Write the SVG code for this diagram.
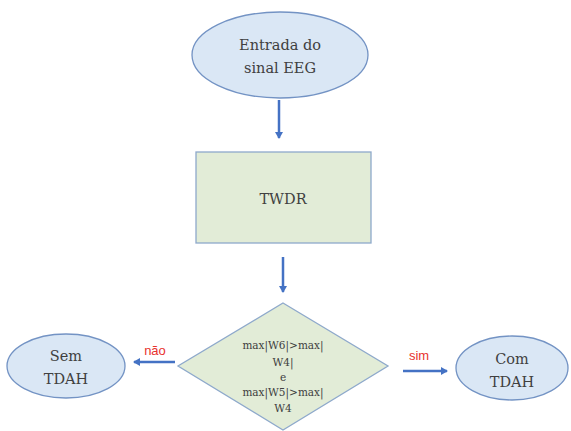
<svg xmlns="http://www.w3.org/2000/svg" width="571" height="431" viewBox="0 0 571 431">
<defs>
<marker id="ah" markerWidth="8" markerHeight="8" refX="6" refY="4" orient="auto" markerUnits="userSpaceOnUse">
<path d="M0,0 L7,4 L0,8 Z" fill="#4472c4"/>
</marker>
<style>
.ell{fill:#dae7f5;stroke:#7393c4;stroke-width:1.3}
.box{fill:#e2ecd7;stroke:#8ea9cb;stroke-width:1.3}
.t{fill:#404040;text-anchor:middle;font-family:"DejaVu Serif","Liberation Serif",serif}
.lbl{fill:#e8322d;font-size:13px;text-anchor:middle;font-family:"Liberation Sans",sans-serif}
.con{stroke:#4472c4;stroke-width:2.5;fill:none}
</style>
</defs>
<rect width="571" height="431" fill="#ffffff"/>
<g id="connectors">
<line class="con" x1="279" y1="100" x2="279" y2="138" marker-end="url(#ah)"/>
<line class="con" x1="283" y1="257" x2="283" y2="292" marker-end="url(#ah)"/>
<line class="con" x1="175" y1="362" x2="134" y2="362" marker-end="url(#ah)"/>
<line class="con" x1="403" y1="371" x2="447" y2="371" marker-end="url(#ah)"/>
<text class="lbl" x="155" y="355">não</text>
<text class="lbl" x="419" y="360">sim</text>
</g>
<g id="entrada">
<ellipse class="ell" cx="280" cy="55" rx="88" ry="43"/>
<text class="t" font-size="14.5" x="280" y="50">Entrada do</text>
<text class="t" font-size="14.5" x="280" y="73">sinal EEG</text>
</g>
<g id="twdr">
<rect class="box" x="196" y="152" width="175" height="91"/>
<text class="t" font-size="14.5" x="283" y="204">TWDR</text>
</g>
<g id="decisao">
<polygon class="box" points="283,303 388,366 283,430 178,366"/>
<text class="t" font-size="10.5" x="283" y="349">max|W6|&gt;max|</text>
<text class="t" font-size="10.5" x="283" y="366">W4|</text>
<text class="t" font-size="10.5" x="283" y="381">e</text>
<text class="t" font-size="10.5" x="283" y="396">max|W5|&gt;max|</text>
<text class="t" font-size="10.5" x="283" y="412">W4</text>
</g>
<g id="sem">
<ellipse class="ell" cx="66" cy="366" rx="59" ry="32"/>
<text class="t" font-size="14.5" x="66" y="361">Sem</text>
<text class="t" font-size="14.5" x="66" y="384">TDAH</text>
</g>
<g id="com">
<ellipse class="ell" cx="512" cy="368" rx="56" ry="32"/>
<text class="t" font-size="14.5" x="512" y="364">Com</text>
<text class="t" font-size="14.5" x="512" y="387">TDAH</text>
</g>
</svg>
